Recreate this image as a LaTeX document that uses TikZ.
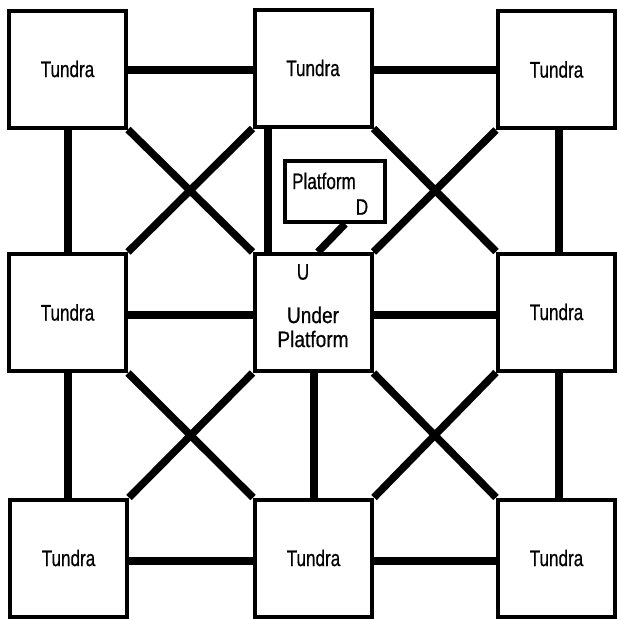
\documentclass[tikz,border=0pt]{standalone}
\usepackage{fontspec}
\setmainfont{Liberation Sans}[FakeStretch=0.76,FakeBold=0.6]
\newfontfamily\widefont{Liberation Sans}[FakeStretch=0.85,FakeBold=0.6]
\begin{document}
\begin{tikzpicture}[x=1pt,y=-1pt,
  room/.style={draw, line width=4pt, minimum width=117pt, minimum height=117pt,
    inner sep=0pt, font=\fontsize{22.5}{25}\selectfont},
  plat/.style={draw, line width=4pt, minimum width=100pt, minimum height=61pt, inner sep=0pt},
  lbl/.style={inner sep=0pt, font=\fontsize{22.5}{25}\selectfont},
  corridor/.style={line width=8pt},
  diag/.style={line width=7.5pt},
  ladder/.style={line width=7.5pt}]
\useasboundingbox (0,0) rectangle (617,619);
% rooms
\node[room] (TL) at (67.5,69)   {Tundra};
\node[room] (TM) at (313,68)    {Tundra};
\node[room] (TR) at (556.5,69.5){Tundra};
\node[room] (ML) at (67.5,312.5){Tundra};
\node[room] (C)  at (313,312.5) {};
\node[room] (MR) at (556.5,312) {Tundra};
\node[room] (BL) at (68.5,558)  {Tundra};
\node[room] (BM) at (313.5,558) {Tundra};
\node[room] (BR) at (556.5,558) {Tundra};
% platform
\node[plat] (P) at (335,191.5) {};
\node[lbl] (Pt) at (324,181) {Platform};
\node[lbl] (D) at (362,207) {D};
\node[lbl] (U) at (303,272) {U};
\node[lbl, align=center, font=\widefont\fontsize{22.5}{24}\selectfont] (UP) at (313,327) {Under\\Platform};
% guide coordinates
\coordinate (r0) at (0,70);
\coordinate (r1) at (0,315);
\coordinate (r2) at (0,561);
\coordinate (c0) at (68,0);
\coordinate (c1u) at (268,0);
\coordinate (c1l) at (314,0);
\coordinate (c2) at (559,0);
% horizontal corridors
\draw[corridor] (TL.east |- r0) -- (TM.west |- r0);
\draw[corridor] (TM.east |- r0) -- (TR.west |- r0);
\draw[corridor] (ML.east |- r1) -- (C.west |- r1);
\draw[corridor] (C.east |- r1) -- (MR.west |- r1);
\draw[corridor] (BL.east |- r2) -- (BM.west |- r2);
\draw[corridor] (BM.east |- r2) -- (BR.west |- r2);
% vertical corridors
\draw[corridor] (TL.south -| c0) -- (ML.north -| c0);
\draw[corridor] (ML.south -| c0) -- (BL.north -| c0);
\draw[corridor] (TM.south -| c1u) -- (C.north -| c1u);
\draw[corridor] (C.south -| c1l) -- (BM.north -| c1l);
\draw[corridor] (TR.south -| c2) -- (MR.north -| c2);
\draw[corridor] (MR.south -| c2) -- (BR.north -| c2);
% diagonals
\draw[diag] (TL.south east) -- (C.north west);
\draw[diag] (TM.south west) -- (ML.north east);
\draw[diag] (TM.south east) -- (MR.north west);
\draw[diag] (TR.south west) -- (C.north east);
\draw[diag] (ML.south east) -- (BM.north west);
\draw[diag] (C.south west) -- (BL.north east);
\draw[diag] (C.south east) -- (BR.north west);
\draw[diag] (MR.south west) -- (BM.north east);
% platform link
\draw[ladder] ([xshift=10pt]P.south) -- ([xshift=5pt]C.north);
\end{tikzpicture}
\end{document}
